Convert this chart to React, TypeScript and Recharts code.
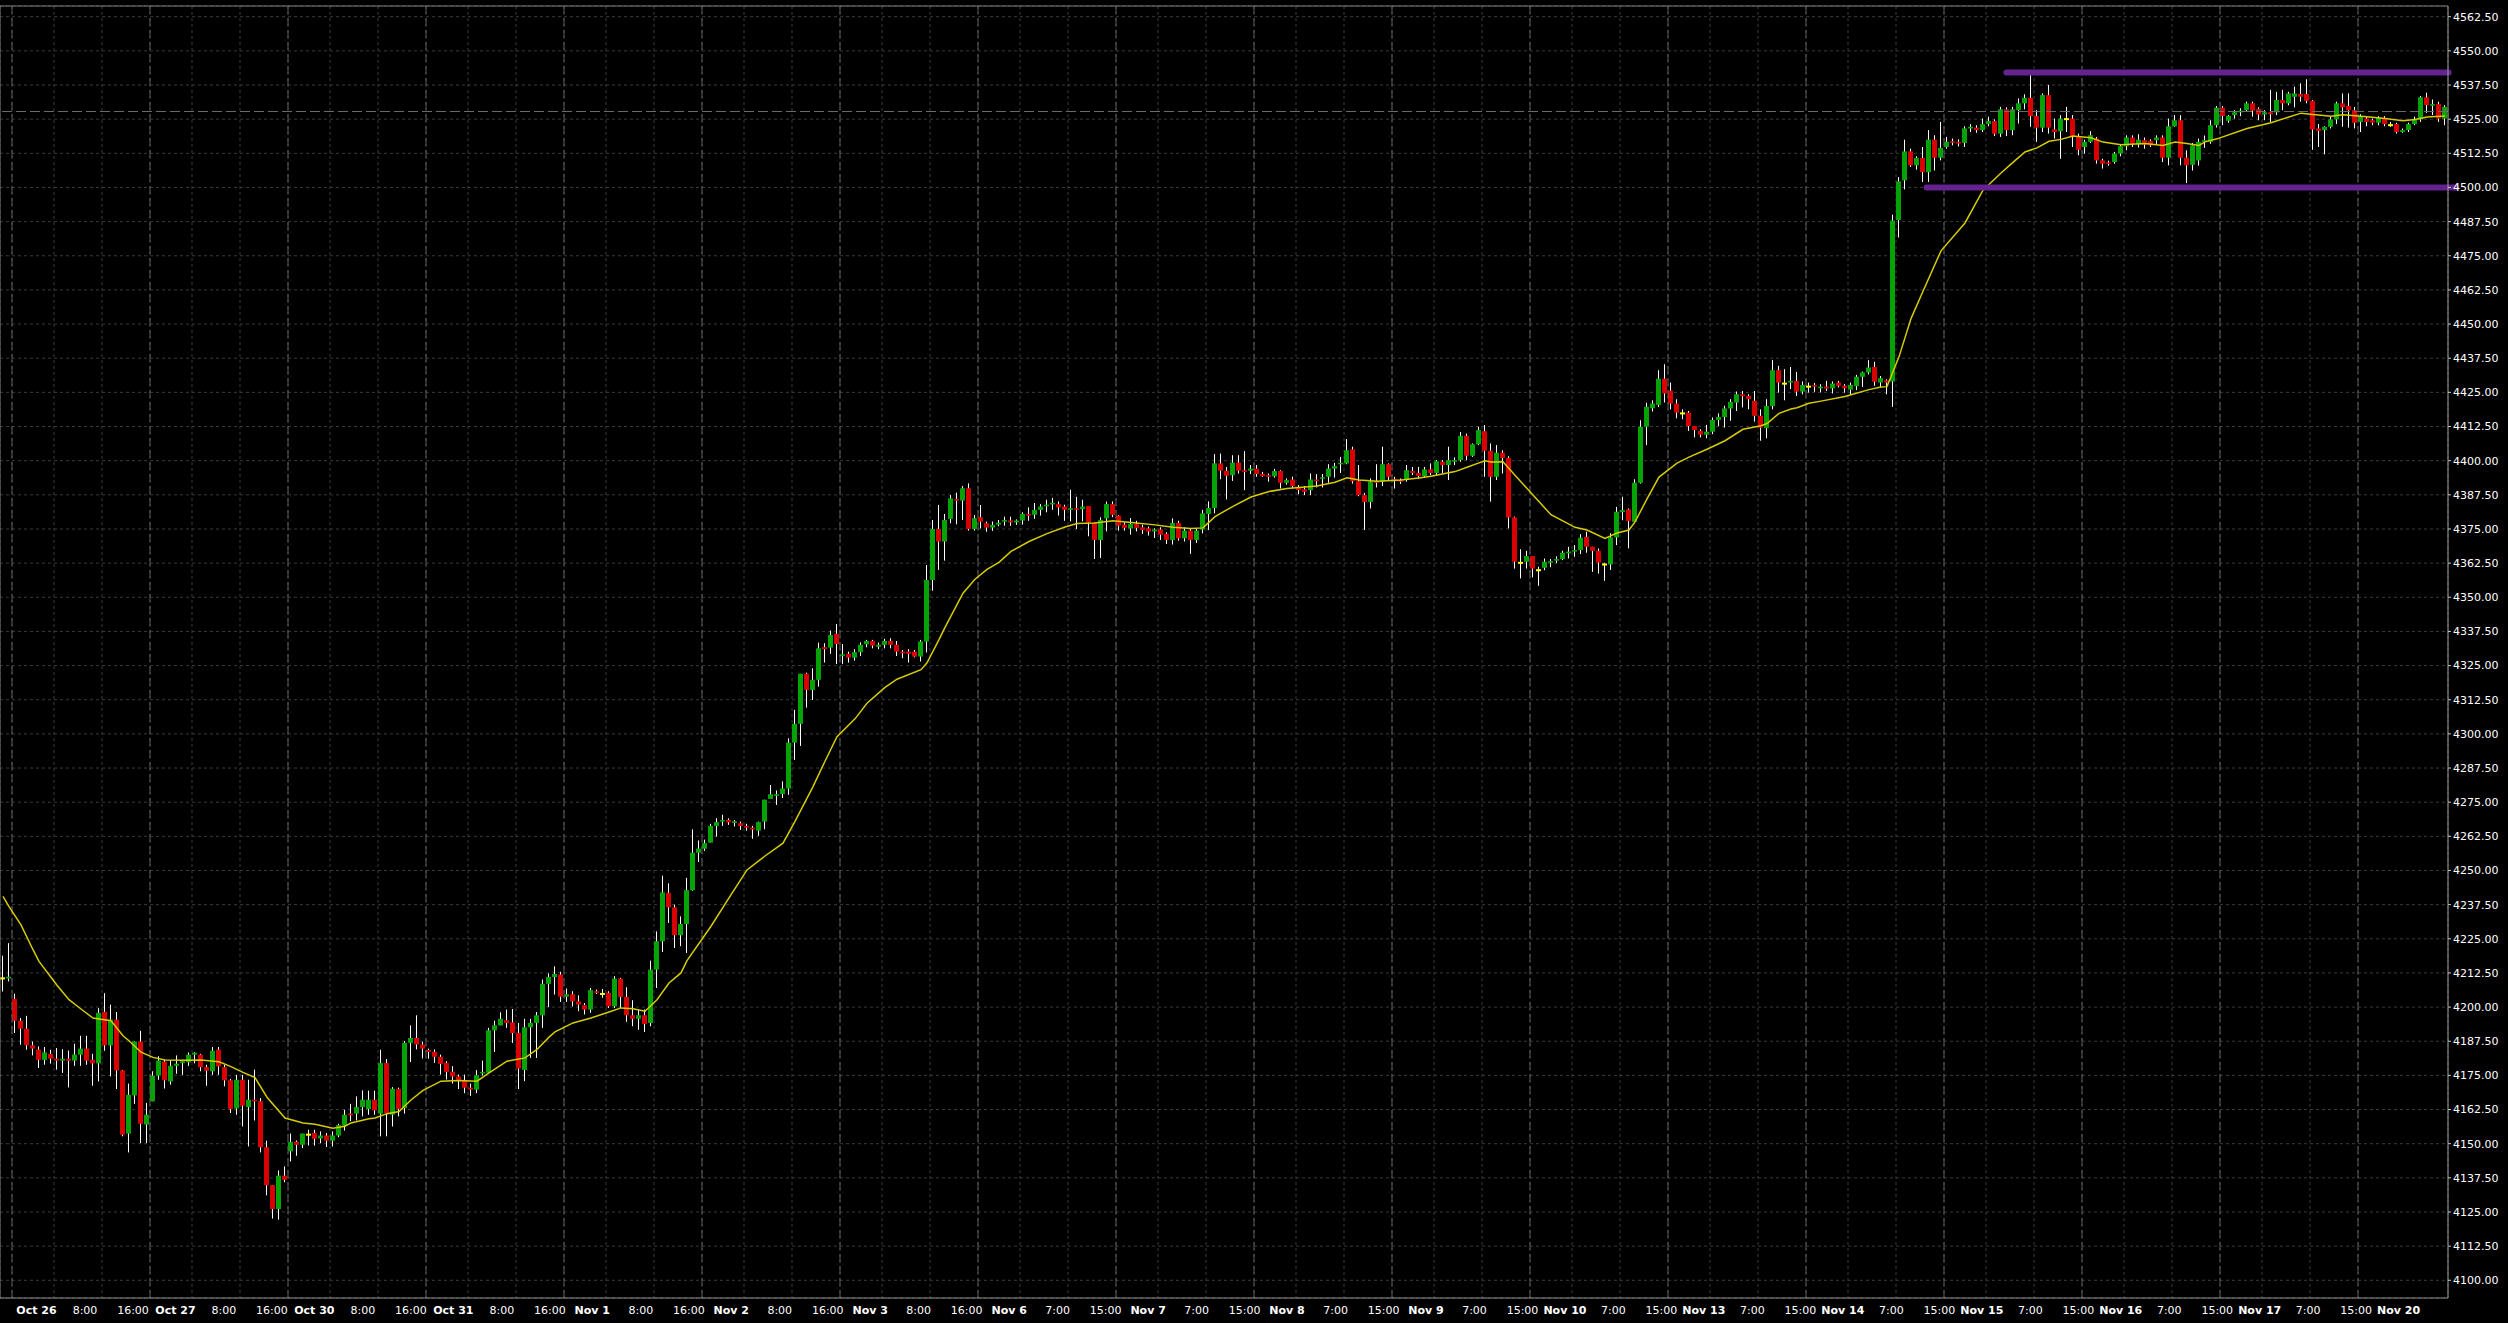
import React from 'react';
import { ComposedChart, Bar, Line, XAxis, YAxis, CartesianGrid, ReferenceLine } from 'recharts';

// ---------- hourly candles (bar index 0..407) ----------
const opens = [
  4210.5, 4210.5, 4203, 4195, 4192.1, 4186, 4184.4, 4180.7, 4182.9, 4181.1,
  4180.4, 4181.1, 4180.4, 4182.6, 4184.8, 4180.7, 4179.4, 4198.3, 4186, 4195.4,
  4176.8, 4153.7, 4167.7, 4187.4, 4157, 4165.5, 4174.9, 4180, 4172.8, 4178.5,
  4179.5, 4179.8, 4182.6, 4182.6, 4178, 4176.5, 4184.4, 4178, 4173.2, 4162.9,
  4173.4, 4163.4, 4166.1, 4165.5, 4148.7, 4134.8, 4126.1, 4138.3, 4147.2, 4150.7,
  4149.6, 4153.3, 4153.9, 4151.9, 4153, 4151.1, 4153, 4156.6, 4161, 4161,
  4163.4, 4162.7, 4166.1, 4161, 4179.5, 4160.6, 4170, 4163, 4186.9, 4188.7,
  4186.3, 4184.3, 4183.6, 4181.8, 4179.6, 4176.3, 4174.6, 4173.1, 4170.5, 4169.8,
  4175.7, 4176, 4191.5, 4193.3, 4195.2, 4194.4, 4190.5, 4177, 4192.6, 4194.2,
  4197, 4208.5, 4211, 4211.9, 4203.8, 4204.7, 4202.1, 4200.7, 4199.1, 4205.8,
  4204.8, 4205.2, 4200.3, 4210.4, 4203.7, 4197, 4195.7, 4197, 4194.2, 4213.7,
  4224.1, 4241.8, 4236.5, 4226.3, 4230.4, 4242.8, 4256.5, 4258, 4260.2, 4266.3,
  4267.9, 4268.5, 4267.4, 4267.3, 4266.3, 4265.7, 4264.6, 4267.9, 4276.2, 4277.3,
  4278, 4280, 4296.8, 4303.7, 4322, 4316.1, 4319.8, 4331.7, 4331.6, 4336.6,
  4328.5, 4329.3, 4327.9, 4329.9, 4332.8, 4334, 4331.9, 4332.6, 4334, 4332.6,
  4330.1, 4330.1, 4330.1, 4328.3, 4333.8, 4356.3, 4375, 4370.4, 4378.7, 4386,
  4385.4, 4389.9, 4375, 4379.3, 4377.1, 4375.5, 4376.6, 4377.7, 4378.1, 4377.4,
  4378.1, 4380.5, 4380.2, 4382, 4383.3, 4384, 4384.1, 4383.2, 4382, 4382.6,
  4382.3, 4383.4, 4377.4, 4371, 4378.9, 4384.1, 4379.9, 4376.6, 4375.2, 4376.8,
  4375.6, 4375.2, 4374.1, 4374.8, 4373.2, 4371, 4377.2, 4371.6, 4374.4, 4371,
  4374.8, 4380.5, 4382.7, 4399, 4396.3, 4394.7, 4399.3, 4396.5, 4396.3, 4397.1,
  4395.1, 4394.7, 4394.3, 4396.2, 4391.9, 4393.1, 4390.2, 4389.5, 4389.2, 4393.1,
  4393.4, 4394.1, 4397.1, 4398.7, 4399, 4404.1, 4392.5, 4387.4, 4384.9, 4392.5,
  4392.3, 4398.7, 4393.2, 4392.9, 4392.9, 4396.2, 4395.5, 4394.3, 4396.8, 4395.5,
  4399.6, 4398.4, 4399.6, 4400.2, 4409.1, 4401.8, 4406, 4410.8, 4403.6, 4394.1,
  4402.9, 4401, 4379.2, 4362.6, 4363, 4365.1, 4359.9, 4360.8, 4362.6, 4363.4,
  4364, 4366.1, 4366.7, 4367.3, 4372.1, 4368.5, 4367, 4362, 4362, 4371.9,
  4381.2, 4382.2, 4377.6, 4391.9, 4412.4, 4419.2, 4420.4, 4430, 4425.6, 4420.9,
  4417.3, 4417.6, 4412.7, 4410.9, 4409.5, 4410.6, 4414.9, 4416, 4419.1, 4421.3,
  4424.3, 4423.7, 4421.9, 4416.4, 4411.9, 4420, 4433.1, 4428.2, 4428.6, 4429.2,
  4425.3, 4427.1, 4427.7, 4426.5, 4427.1, 4426.5, 4428.6, 4427.4, 4426, 4427.3,
  4430.7, 4432.3, 4434.3, 4428.6, 4429.4, 4429, 4488.1, 4502.6, 4513.2, 4508.1,
  4510.8, 4505.6, 4517.5, 4510.9, 4514.8, 4516.9, 4516.7, 4516.3, 4521.6, 4521.9,
  4521, 4523.2, 4524.3, 4519.7, 4528.6, 4521, 4528.3, 4530.8, 4532.8, 4526.1,
  4521.9, 4533.8, 4521.3, 4520.6, 4525, 4525.2, 4518.7, 4514.8, 4516.7, 4517.9,
  4509.9, 4509.1, 4509.3, 4512.4, 4515.1, 4518.3, 4515.8, 4517.3, 4517, 4517.3,
  4518.3, 4510.9, 4522.4, 4524.6, 4510.9, 4508.3, 4509.9, 4516.7, 4516.7, 4522.8,
  4529.2, 4524.4, 4526.5, 4527.5, 4528.3, 4530.8, 4528.7, 4526.7, 4527.5, 4527.5,
  4532, 4530.8, 4533.2, 4534.2, 4534.2, 4531.7, 4521.6, 4521, 4522.2, 4524.9,
  4530.8, 4529.8, 4528.3, 4524, 4525.2, 4524.6, 4523.7, 4525.5, 4522.8, 4523.2,
  4520.3, 4521, 4523.2, 4524.9, 4533, 4529.9, 4530.5, 4525.2,
];

const highs = [
  4218.8, 4223.4, 4204.9, 4196, 4196.8, 4187.4, 4185.6, 4185.4, 4184.4, 4185,
  4184.6, 4184.1, 4186.6, 4189.5, 4189.5, 4182.9, 4199.6, 4205.1, 4200.9, 4198.2,
  4177, 4172, 4187.4, 4191.3, 4164.9, 4176.5, 4182, 4180.7, 4180.5, 4182.3,
  4180.7, 4183.4, 4183.5, 4182.9, 4178.9, 4185.4, 4185.4, 4178.9, 4173.7, 4175.2,
  4175.2, 4173.4, 4177.1, 4166.7, 4151.1, 4134.8, 4140.2, 4141.7, 4153.7, 4151.2,
  4153.7, 4155.1, 4155.1, 4154.5, 4153.9, 4154.5, 4157.3, 4162.4, 4164.6, 4167.3,
  4169.5, 4169.4, 4169.4, 4184.4, 4181, 4170.7, 4170.5, 4187.5, 4193.3, 4197,
  4187.3, 4184.8, 4184.5, 4182.6, 4180.2, 4178.4, 4175.3, 4175.3, 4172, 4176.9,
  4180.4, 4192.4, 4195, 4198.1, 4199.1, 4199.3, 4194.2, 4195.7, 4195.7, 4198.2,
  4210.1, 4212.3, 4214.9, 4212.9, 4206.8, 4205.8, 4204.3, 4201.5, 4207, 4206.4,
  4206.6, 4205.8, 4211.3, 4210.7, 4207.3, 4202.5, 4199.1, 4199.1, 4217, 4227.7,
  4248.1, 4245.3, 4237.5, 4233.2, 4247.3, 4265, 4261, 4261.3, 4267.1, 4269.1,
  4270.4, 4269.1, 4268.5, 4267.9, 4267.1, 4266.3, 4267.9, 4275.9, 4281.3, 4279.3,
  4282.6, 4298.4, 4308.8, 4322, 4322.4, 4324, 4333.4, 4333.2, 4337.8, 4340.2,
  4332.9, 4330.1, 4331, 4333.5, 4334.4, 4334.4, 4333.4, 4334.8, 4335, 4334,
  4330.7, 4331, 4330.7, 4334.4, 4361.8, 4378.3, 4383.8, 4380.5, 4387.4, 4388.3,
  4390.7, 4391.7, 4380.1, 4383.8, 4377.7, 4377.7, 4378.3, 4379.5, 4379.5, 4378.5,
  4381.1, 4382.9, 4384.5, 4384.1, 4385.7, 4386.4, 4385.1, 4383.9, 4389.4, 4386.8,
  4385.7, 4383.4, 4377.4, 4379.3, 4385, 4385.1, 4380.1, 4377.4, 4379, 4378,
  4376.6, 4375.9, 4375.2, 4375.6, 4373.8, 4378.9, 4378, 4375.6, 4375, 4375,
  4382, 4385.1, 4402.4, 4402.6, 4397.7, 4402, 4402, 4403.5, 4398.4, 4398.4,
  4395.9, 4395.3, 4397, 4396.5, 4393.5, 4394.1, 4391.1, 4390.7, 4395.3, 4395.1,
  4395.1, 4398.7, 4399.2, 4401.4, 4407.9, 4405.1, 4398.4, 4388.2, 4393.5, 4398.7,
  4405.1, 4399, 4394.1, 4393.5, 4398.4, 4397.7, 4397.7, 4397.7, 4399, 4400.2,
  4400.2, 4405.1, 4401.2, 4410.5, 4409.9, 4406.3, 4412.4, 4413, 4406.3, 4405.7,
  4403.8, 4401.6, 4379.5, 4367.6, 4367, 4365.1, 4361.2, 4364.2, 4364, 4365,
  4367, 4368.5, 4369.1, 4373.1, 4374, 4368.5, 4367.9, 4362.6, 4373.4, 4383.1,
  4386.8, 4382.5, 4393.2, 4414.8, 4421.2, 4422.1, 4433.1, 4435.3, 4428.6, 4422.5,
  4418.8, 4418.2, 4412.7, 4411.5, 4413.1, 4415.8, 4417.3, 4420.1, 4422.5, 4425.3,
  4425.5, 4424.3, 4425.5, 4418.8, 4422.5, 4436.8, 4434.7, 4433.5, 4434.3, 4432.5,
  4429, 4428.6, 4428.4, 4428, 4429.2, 4429, 4429.2, 4428, 4428.6, 4431.4,
  4432.6, 4436.8, 4436.2, 4431, 4429.8, 4490, 4503.8, 4517.5, 4514.2, 4511.4,
  4514.8, 4521, 4519.1, 4524, 4518.5, 4517.9, 4517.6, 4522.4, 4523.2, 4522.8,
  4525.2, 4525.9, 4524.9, 4529.5, 4529.3, 4529.5, 4532.6, 4534.1, 4541.2, 4528.3,
  4534.4, 4537.5, 4525.2, 4526.5, 4529.5, 4526.5, 4519.7, 4517.5, 4520.6, 4518.5,
  4510.5, 4509.8, 4513, 4515.8, 4519.1, 4519.1, 4519.5, 4518.3, 4517.6, 4519.1,
  4519.1, 4525.2, 4526.5, 4526.5, 4513.6, 4516.3, 4517.9, 4519, 4524.6, 4529.8,
  4529.8, 4526.5, 4528.3, 4529, 4531.4, 4531.4, 4529.3, 4528.3, 4535.7, 4535,
  4535.7, 4535, 4536.9, 4538.1, 4539.6, 4532, 4523.2, 4522.4, 4525.9, 4531.4,
  4534.4, 4534.4, 4529.5, 4526.8, 4526.1, 4525.2, 4526.1, 4526.1, 4524, 4523.7,
  4521.6, 4523.7, 4525.9, 4533.5, 4534.7, 4532.2, 4531.4, 4530.1,
];

const lows = [
  4205.7, 4209.4, 4190.5, 4186.2, 4184.4, 4182.3, 4177.7, 4178.9, 4179.3, 4177.1,
  4175.9, 4170.6, 4178.5, 4178.5, 4178.9, 4171.2, 4172.8, 4184, 4174.6, 4170,
  4152.7, 4146.8, 4164.6, 4150.2, 4150.2, 4165.5, 4173.4, 4170.2, 4171.6, 4175.6,
  4175.2, 4178.5, 4179.4, 4176.5, 4171.2, 4175.2, 4175.2, 4171, 4161.2, 4160.6,
  4156.3, 4149, 4158.5, 4146.8, 4131.1, 4122.6, 4122.2, 4135.9, 4143.5, 4145.6,
  4148.4, 4149.3, 4149.3, 4150.2, 4148.8, 4149, 4152.4, 4154.8, 4158.2, 4158.5,
  4160, 4160.6, 4160.6, 4152.7, 4152.7, 4156.3, 4160, 4161, 4179.9, 4184.5,
  4181.2, 4181.1, 4179.6, 4175.3, 4173.5, 4172, 4170, 4168.5, 4167.5, 4168.5,
  4175, 4176, 4183.6, 4193.3, 4192.4, 4186.9, 4170, 4172.9, 4181.4, 4181.4,
  4192.4, 4200, 4204.6, 4201.9, 4201.9, 4200.3, 4198.5, 4197.3, 4197.9, 4204.8,
  4203.4, 4199.7, 4199.7, 4199.7, 4194.6, 4193, 4191.7, 4190.9, 4193, 4207,
  4220.2, 4230.8, 4221.6, 4222.3, 4219.8, 4242.6, 4253.1, 4257.2, 4260.2, 4262.4,
  4266.3, 4266.7, 4266.1, 4264.9, 4264.6, 4261.6, 4262.7, 4265.1, 4276.2, 4274,
  4276.5, 4277.7, 4290.5, 4295.6, 4309.6, 4312.4, 4317.3, 4326.1, 4329.3, 4325.6,
  4325.6, 4326.1, 4326.8, 4328.5, 4331.7, 4331.3, 4331, 4331.3, 4331.3, 4328.5,
  4327.7, 4326.1, 4328, 4326.5, 4329.8, 4352.4, 4360, 4363.4, 4377.1, 4376.7,
  4378.3, 4374.4, 4374.4, 4375.2, 4374, 4374.3, 4376, 4376.2, 4376.2, 4376.5,
  4376.6, 4378, 4378.7, 4379.9, 4381.1, 4382, 4379.9, 4378, 4377.8, 4375,
  4377.8, 4372.3, 4364, 4364.4, 4374.1, 4379.3, 4374.4, 4374.4, 4372.9, 4374.1,
  4373.2, 4372.6, 4371.7, 4371, 4369.5, 4369.3, 4370.7, 4370.4, 4365.9, 4369.9,
  4373.4, 4374.6, 4380.7, 4393.2, 4385.8, 4392.6, 4395.3, 4389.2, 4395.1, 4394.1,
  4394.1, 4392.3, 4393.8, 4389.8, 4391.2, 4389.8, 4387.7, 4387.4, 4387.4, 4390.2,
  4390.2, 4391.9, 4393.8, 4395.5, 4398.7, 4391.6, 4387, 4374.6, 4382.5, 4390.2,
  4390.7, 4392.9, 4389.8, 4391.5, 4392.3, 4394.7, 4393.5, 4393.8, 4394.7, 4394.7,
  4395.5, 4392.9, 4398.4, 4399.6, 4400.2, 4401.4, 4405.7, 4394.1, 4385, 4392.9,
  4395.3, 4375.2, 4360.5, 4356.9, 4360.5, 4357.3, 4354.2, 4359.9, 4361, 4362.5,
  4363.6, 4364.2, 4364.8, 4365.8, 4366.3, 4359.3, 4358.7, 4356, 4360, 4369.1,
  4378.2, 4367.9, 4377, 4391.6, 4405.7, 4418, 4419.7, 4421.3, 4418.8, 4415.5,
  4415.2, 4410.9, 4408.5, 4408.5, 4408.2, 4409.7, 4412.7, 4412.1, 4414.6, 4418.2,
  4419.5, 4418.8, 4414.3, 4407.3, 4408.2, 4418.8, 4424.9, 4422.1, 4426.2, 4423.7,
  4424.3, 4424.9, 4425.2, 4425, 4425.5, 4424.6, 4426.8, 4424.9, 4424.1, 4425.8,
  4427, 4431.6, 4427.4, 4426.8, 4424.3, 4419.7, 4481.7, 4499.3, 4507.5, 4506.5,
  4502, 4502, 4506.2, 4509.9, 4514.2, 4515.4, 4515, 4514.8, 4520.3, 4520,
  4520.3, 4522.4, 4518.8, 4518.5, 4518.8, 4519.1, 4523.4, 4528.6, 4522.2, 4516.7,
  4520.3, 4519.7, 4517.9, 4510.5, 4520.3, 4514.8, 4511.8, 4512.4, 4516.3, 4508.7,
  4506.9, 4508, 4508.7, 4511.4, 4513.6, 4514.8, 4514.6, 4514.2, 4514.8, 4515.8,
  4509.3, 4508.1, 4522.2, 4508.1, 4501.6, 4506.2, 4508, 4514.5, 4516, 4521.9,
  4522.8, 4523.7, 4525.2, 4526.1, 4527.7, 4525.9, 4524.6, 4524.6, 4524, 4526.5,
  4528.3, 4530.1, 4529.3, 4531.4, 4530.8, 4513.8, 4514.8, 4512.1, 4521.6, 4523.2,
  4522.2, 4521.9, 4521.6, 4520.3, 4522.4, 4522.8, 4522.8, 4522.4, 4522.2, 4519.7,
  4520, 4520.3, 4522.8, 4524, 4527.3, 4526.5, 4524, 4522.8,
];

const closes = [
  4210.5, 4211.1, 4195, 4192.1, 4186, 4184.8, 4180.7, 4183.4, 4181.1, 4180.4,
  4181.1, 4180.4, 4182.6, 4184.8, 4180.4, 4179.4, 4197.9, 4186, 4195.4, 4176.8,
  4153.3, 4167.9, 4187.4, 4157.3, 4160.6, 4174.9, 4180.4, 4173.2, 4178.5, 4179.3,
  4180.2, 4182.6, 4183.3, 4178, 4176.7, 4184, 4178.3, 4173.2, 4162.7, 4173.4,
  4163.9, 4166.1, 4165.5, 4148.7, 4134.8, 4126.1, 4138.3, 4136.8, 4150.6, 4149.6,
  4153.7, 4153.3, 4151.8, 4153, 4151.1, 4153, 4156.8, 4160.6, 4160.4, 4163.4,
  4166.1, 4166.1, 4162.2, 4179.5, 4161.2, 4170.1, 4162.7, 4186.9, 4188.7, 4186.3,
  4184.8, 4183.6, 4181.8, 4179.2, 4176.3, 4174.6, 4173.1, 4170.5, 4169.8, 4175.1,
  4176.3, 4191.5, 4193.3, 4195.7, 4194.2, 4190.5, 4177.5, 4192.6, 4194.2, 4197,
  4208.5, 4211, 4212.1, 4203.8, 4204.7, 4202.1, 4200.9, 4199.1, 4206.2, 4205.2,
  4204.8, 4200.3, 4210.4, 4203.7, 4197, 4195.7, 4197, 4193.8, 4213.7, 4224.1,
  4242, 4236.5, 4226.3, 4230.4, 4242.8, 4256.5, 4258, 4260, 4266.3, 4267.7,
  4268.5, 4267.6, 4268, 4266.3, 4265.7, 4265, 4267.7, 4275.9, 4277.9, 4277.9,
  4280, 4296.8, 4303.7, 4322, 4316.1, 4319.8, 4331.3, 4331, 4336.2, 4332.9,
  4329.1, 4327.9, 4329.9, 4332.6, 4334, 4332.3, 4332.6, 4334, 4332.6, 4330.1,
  4329.5, 4329.3, 4328.3, 4333.8, 4356.3, 4375, 4370.4, 4378.3, 4386.2, 4385.4,
  4389.9, 4375, 4378.9, 4377.7, 4375.5, 4376.5, 4377.3, 4378.3, 4377.4, 4378.1,
  4380.5, 4379.9, 4382, 4383.2, 4383.9, 4384.6, 4382.9, 4382, 4382.6, 4382,
  4383.2, 4377.4, 4371, 4378.3, 4384.1, 4380.2, 4376.2, 4375.4, 4376.8, 4375.4,
  4374.6, 4374.1, 4374.8, 4372.9, 4371, 4377.2, 4371.6, 4374.4, 4371, 4374.4,
  4380.7, 4382.7, 4399, 4396.3, 4394.5, 4399.3, 4396.3, 4395.9, 4397.1, 4395.1,
  4394.3, 4394.1, 4396.2, 4391.9, 4392.9, 4390.7, 4389.2, 4388.6, 4393.1, 4392.5,
  4393.9, 4397.1, 4398, 4399.2, 4403.8, 4392.5, 4387.4, 4384.9, 4392.3, 4391.9,
  4398.7, 4394.1, 4392.6, 4392.3, 4396.5, 4395.5, 4394.4, 4396.8, 4395.5, 4399.8,
  4398.4, 4400.2, 4400.2, 4409.1, 4401.8, 4406, 4411.2, 4403.6, 4394.1, 4402.9,
  4401, 4379.2, 4363, 4362.6, 4365.1, 4360.5, 4359.9, 4363, 4363.2, 4364,
  4366.3, 4366.7, 4367.3, 4371.8, 4368.5, 4367, 4362.7, 4362, 4371.9, 4381.3,
  4381.9, 4377.9, 4391.9, 4412.4, 4419.7, 4420.9, 4430, 4424.6, 4420.9, 4417.6,
  4417.3, 4412.7, 4411.2, 4409.5, 4410.6, 4414.9, 4416, 4419.1, 4421.5, 4424.3,
  4423.6, 4422.5, 4416.4, 4412.1, 4420, 4433.1, 4428.6, 4428.2, 4429.2, 4425.3,
  4427.7, 4427.1, 4427.1, 4427.1, 4426.4, 4428.2, 4427.4, 4426.5, 4427.7, 4430.7,
  4432.3, 4434.1, 4428.9, 4430.2, 4428.6, 4487.9, 4502.2, 4513.2, 4508.1, 4510.8,
  4505.6, 4517.5, 4510.9, 4514.5, 4516.7, 4516.4, 4516.1, 4521.6, 4522.2, 4521,
  4523.2, 4524.3, 4519.7, 4528.6, 4521, 4528.6, 4530.8, 4532.8, 4526.1, 4521.9,
  4533.8, 4521.9, 4520.3, 4525.2, 4525, 4518.7, 4513.8, 4516.7, 4519.1, 4509.9,
  4508.7, 4508.7, 4512.4, 4515.1, 4518.3, 4515.8, 4517.5, 4515.7, 4515.4, 4518.3,
  4510.9, 4522.4, 4524.6, 4510.9, 4508.1, 4515.4, 4516.7, 4517.3, 4522.8, 4529.2,
  4526.2, 4526.2, 4527.5, 4528.1, 4530.8, 4528.1, 4526.7, 4527.5, 4526.8, 4532,
  4530.8, 4534.4, 4534.4, 4533.2, 4531.7, 4521.2, 4520.7, 4522.2, 4524.9, 4530.8,
  4529.3, 4528.3, 4523.7, 4526.1, 4524, 4523.7, 4525.5, 4523.2, 4522.8, 4520.3,
  4521, 4523.2, 4524.9, 4533, 4530.1, 4530.5, 4525.2, 4529.5,
];

// ---------- moving average (at these bars) ----------
const maBars = [
  0, 1, 3, 5, 6, 9, 11, 13, 15, 18, 20, 21, 23, 25, 27, 30, 33, 36, 38, 40,
  42, 44, 47, 50, 52, 55, 57, 58, 61, 62, 64, 66, 68, 70, 73, 76, 79, 81, 84, 86,
  87, 89, 91, 92, 95, 98, 101, 103, 105, 107, 109, 111, 113, 114, 118, 121, 124, 127, 130, 132,
  135, 137, 139, 142, 144, 147, 149, 153, 154, 156, 157, 160, 162, 164, 166, 168, 171, 174, 177, 179,
  182, 185, 188, 192, 195, 198, 200, 202, 205, 208, 211, 214, 216, 219, 222, 224, 226, 229, 233, 236,
  238, 242, 244, 246, 247, 248, 250, 252, 255, 258, 262, 264, 267, 269, 271, 272, 274, 276, 279, 281,
  284, 287, 290, 293, 294, 296, 298, 299, 301, 303, 307, 308, 311, 313, 314, 316, 318, 320, 323, 327,
  330, 333, 335, 337, 339, 341, 343, 345, 348, 350, 353, 357, 360, 362, 364, 366, 367, 369, 374, 378,
  381, 383, 385, 388, 390, 394, 397, 400, 402, 404, 407,
];
const maValues = [
  4240.5, 4236.8, 4230.1, 4221, 4216.7, 4208, 4202.7, 4199.3, 4196, 4195, 4189.5, 4187.7, 4183.5, 4181.6, 4180.6, 4180.5, 4180.6, 4180, 4178.2, 4176.1,
  4174.2, 4167, 4159.4, 4157.6, 4157.1, 4155.7, 4156.4, 4157.6, 4159.1, 4159.4, 4161, 4161.8, 4166, 4169.5, 4172.9, 4173.1, 4172.9, 4175.9, 4180.2, 4181,
  4181.4, 4184.5, 4189, 4190.9, 4194.2, 4196, 4198.2, 4199.7, 4199.4, 4198.5, 4202.7, 4208.8, 4212.5, 4217, 4229.6, 4240, 4250.2, 4255.3, 4260, 4268,
  4280.7, 4290, 4299, 4305.5, 4311.2, 4317, 4320, 4323.5, 4326, 4334.5, 4339, 4351.5, 4356.6, 4360.2, 4362.8, 4366.8, 4370.4, 4373.3, 4375.7, 4377,
  4377.2, 4378, 4377.4, 4376.5, 4375.6, 4375.2, 4375.4, 4379.5, 4383.3, 4386.7, 4388.7, 4389.8, 4390.2, 4390.7, 4392.1, 4393.7, 4392.9, 4392.5, 4392.9, 4393.7,
  4394.3, 4396, 4397.6, 4399.2, 4400, 4399.5, 4399.6, 4394.7, 4387.4, 4380.2, 4375.6, 4374.6, 4371.5, 4373.5, 4374.6, 4377.6, 4386, 4394, 4399.1, 4401.3,
  4404.2, 4407.3, 4411.5, 4412.8, 4413.6, 4417.3, 4418.9, 4419.4, 4421, 4421.8, 4423.5, 4424.1, 4426, 4427, 4427.1, 4438, 4452, 4462, 4476.8, 4487,
  4499, 4505.3, 4509.2, 4513, 4514.5, 4516.9, 4517.6, 4518.8, 4518.2, 4516.6, 4515.6, 4516.1, 4515.4, 4516.6, 4516.1, 4515.4, 4516.7, 4517.8, 4521.6, 4523.7,
  4525.8, 4527.2, 4526.7, 4526.1, 4526.6, 4525.9, 4525.2, 4524.4, 4524.9, 4525.8, 4526.2,
];

// ---------- axis ticks ----------
const yTicks = [
  4100, 4112.5, 4125, 4137.5, 4150, 4162.5, 4175, 4187.5, 4200, 4212.5,
  4225, 4237.5, 4250, 4262.5, 4275, 4287.5, 4300, 4312.5, 4325, 4337.5,
  4350, 4362.5, 4375, 4387.5, 4400, 4412.5, 4425, 4437.5, 4450, 4462.5,
  4475, 4487.5, 4500, 4512.5, 4525, 4537.5, 4550, 4562.5,
];
const dayNames = ['Oct 26', 'Oct 27', 'Oct 30', 'Oct 31', 'Nov 1', 'Nov 2', 'Nov 3', 'Nov 6', 'Nov 7', 'Nov 8', 'Nov 9', 'Nov 10', 'Nov 13', 'Nov 14', 'Nov 15', 'Nov 16', 'Nov 17', 'Nov 20'];
const dayStartBars = [2, 25, 48, 71, 94, 117, 140, 163, 186, 209, 232, 255, 278, 301, 324, 347, 370, 393];
const hourLabelBars = [
  9, 17, 32, 40, 55, 63, 78, 86, 101, 109, 124, 132, 147, 155,
  170, 178, 193, 201, 216, 224, 239, 247, 262, 270, 285, 293, 308, 316, 331, 339, 354, 362, 377, 385,
];
const hourLabelTexts = [
  '8:00', '16:00', '8:00', '16:00', '8:00', '16:00', '8:00', '16:00', '8:00', '16:00', '8:00', '16:00', '8:00', '16:00',
  '7:00', '15:00', '7:00', '15:00', '7:00', '15:00', '7:00', '15:00', '7:00', '15:00', '7:00', '15:00', '7:00', '15:00', '7:00', '15:00', '7:00', '15:00', '7:00', '15:00',
];

// horizontal level lines (price, first bar, last bar)
const levelPrices = [4542.1, 4500];
const levelFrom = [333.9, 320.6];
const levelTo = [407.6, 408.8];
const bidPrice = 4527.8;

const Y_MIN = 4093.52;
const Y_MAX = 4566.42;
const X_MIN = -0.5;
const X_MAX = 407.5;

const GREEN = '#06a306';
const RED = '#d80000';

const candleData = opens.map((o, i) => ({ i, o, h: highs[i], l: lows[i], c: closes[i], range: [lows[i], highs[i]] }));
const maData = maBars.map((i, k) => ({ i, ma: maValues[k] }));

type TickInfo = { text: string; bold: boolean; day: number };
const tickInfo = new Map<number, TickInfo>();
dayStartBars.forEach((b, d) => tickInfo.set(b - 0.5, { text: dayNames[d], bold: true, day: d }));
hourLabelBars.forEach((b, k) => tickInfo.set(b - 0.5, { text: hourLabelTexts[k], bold: false, day: Math.floor(k / 2) }));
const xTicks = Array.from(tickInfo.keys()).sort((a, b) => a - b);

const Candle = (props: any) => {
  const { x, y, width, height, payload } = props;
  if (!payload || x == null || y == null) return null;
  const { o, h, l, c } = payload;
  const yTop = Math.min(y, y + height);
  const yBot = Math.max(y, y + height);
  const span = h - l;
  const py = (v: number) => (span > 0 ? yTop + ((h - v) / span) * (yBot - yTop) : yTop);
  const cx = Math.floor(x + width / 2);
  const doji = o === c;
  let by = py(Math.max(o, c));
  let bh = py(Math.min(o, c)) - by;
  if (doji) {
    by -= 1;
    bh = 2;
  } else if (bh < 1.5) {
    by -= (1.5 - bh) / 2;
    bh = 1.5;
  }
  const fill = doji ? '#ffff00' : c > o ? GREEN : RED;
  return (
    <g>
      <line x1={cx + 0.5} x2={cx + 0.5} y1={yTop} y2={yBot} stroke="#ffffff" strokeWidth={1} />
      <rect x={cx - 2} y={by} width={5} height={bh} fill={fill} />
    </g>
  );
};

const XTick = (props: any) => {
  const { x, y, payload } = props;
  const info = tickInfo.get(payload.value);
  if (!info) return null;
  const cx = x + (info.bold ? 24.5 : 31) + 0.95 * info.day;
  return (
    <text
      x={cx}
      y={y + 15.5}
      textAnchor="middle"
      fill="#ffffff"
      fontFamily="DejaVu Sans"
      fontSize={11}
      fontWeight={info.bold ? 'bold' : 'normal'}
    >
      {info.text}
    </text>
  );
};

export default function App() {
  return (
    <div style={{ position: 'absolute', left: 0, top: 0, width: 2508, height: 1323, background: '#000000', overflow: 'hidden' }}>
      <ComposedChart
        width={2508}
        height={1323}
        data={candleData}
        margin={{ top: 6, right: 0, bottom: 0, left: 0 }}
        style={{ background: '#000000' }}
      >
        <CartesianGrid stroke="#3a3a3a" strokeDasharray="3 3" />
        {dayStartBars.map((b) => (
          <ReferenceLine key={'d' + b} x={b - 0.5} stroke="#5e5e5e" strokeDasharray="8 4" />
        ))}
        <ReferenceLine x={X_MIN} stroke="#808080" />
        <ReferenceLine y={Y_MAX} stroke="#808080" />
        <ReferenceLine y={bidPrice} stroke="#6a6a6a" strokeDasharray="10 4" />
        <XAxis
          dataKey="i"
          type="number"
          domain={[X_MIN, X_MAX]}
          ticks={xTicks}
          interval={0}
          allowDataOverflow
          height={25}
          tickLine={false}
          tickSize={0}
          tickMargin={0}
          axisLine={{ stroke: '#909090' }}
          tick={<XTick />}
        />
        <YAxis
          orientation="right"
          type="number"
          domain={[Y_MIN, Y_MAX]}
          ticks={yTicks}
          interval={0}
          allowDataOverflow
          width={60}
          tickSize={3}
          tickMargin={2}
          axisLine={{ stroke: '#a0a0a0' }}
          tickLine={{ stroke: '#c8c8c8' }}
          tick={{ fill: '#ffffff', fontSize: 11, fontFamily: 'DejaVu Sans' }}
          tickFormatter={(v: number) => v.toFixed(2)}
        />
        <Bar dataKey="range" barSize={5} shape={<Candle />} isAnimationActive={false} />
        <Line
          data={maData}
          dataKey="ma"
          type="linear"
          stroke="#d4cc00"
          strokeWidth={1.5}
          dot={false}
          activeDot={false}
          isAnimationActive={false}
        />
        {levelPrices.map((p, k) => (
          <ReferenceLine
            key={'lv' + k}
            segment={[{ x: levelFrom[k], y: p }, { x: levelTo[k], y: p }]}
            stroke="#65238f"
            strokeWidth={6}
            strokeLinecap="round"
            ifOverflow="visible"
          />
        ))}
      </ComposedChart>
    </div>
  );
}
